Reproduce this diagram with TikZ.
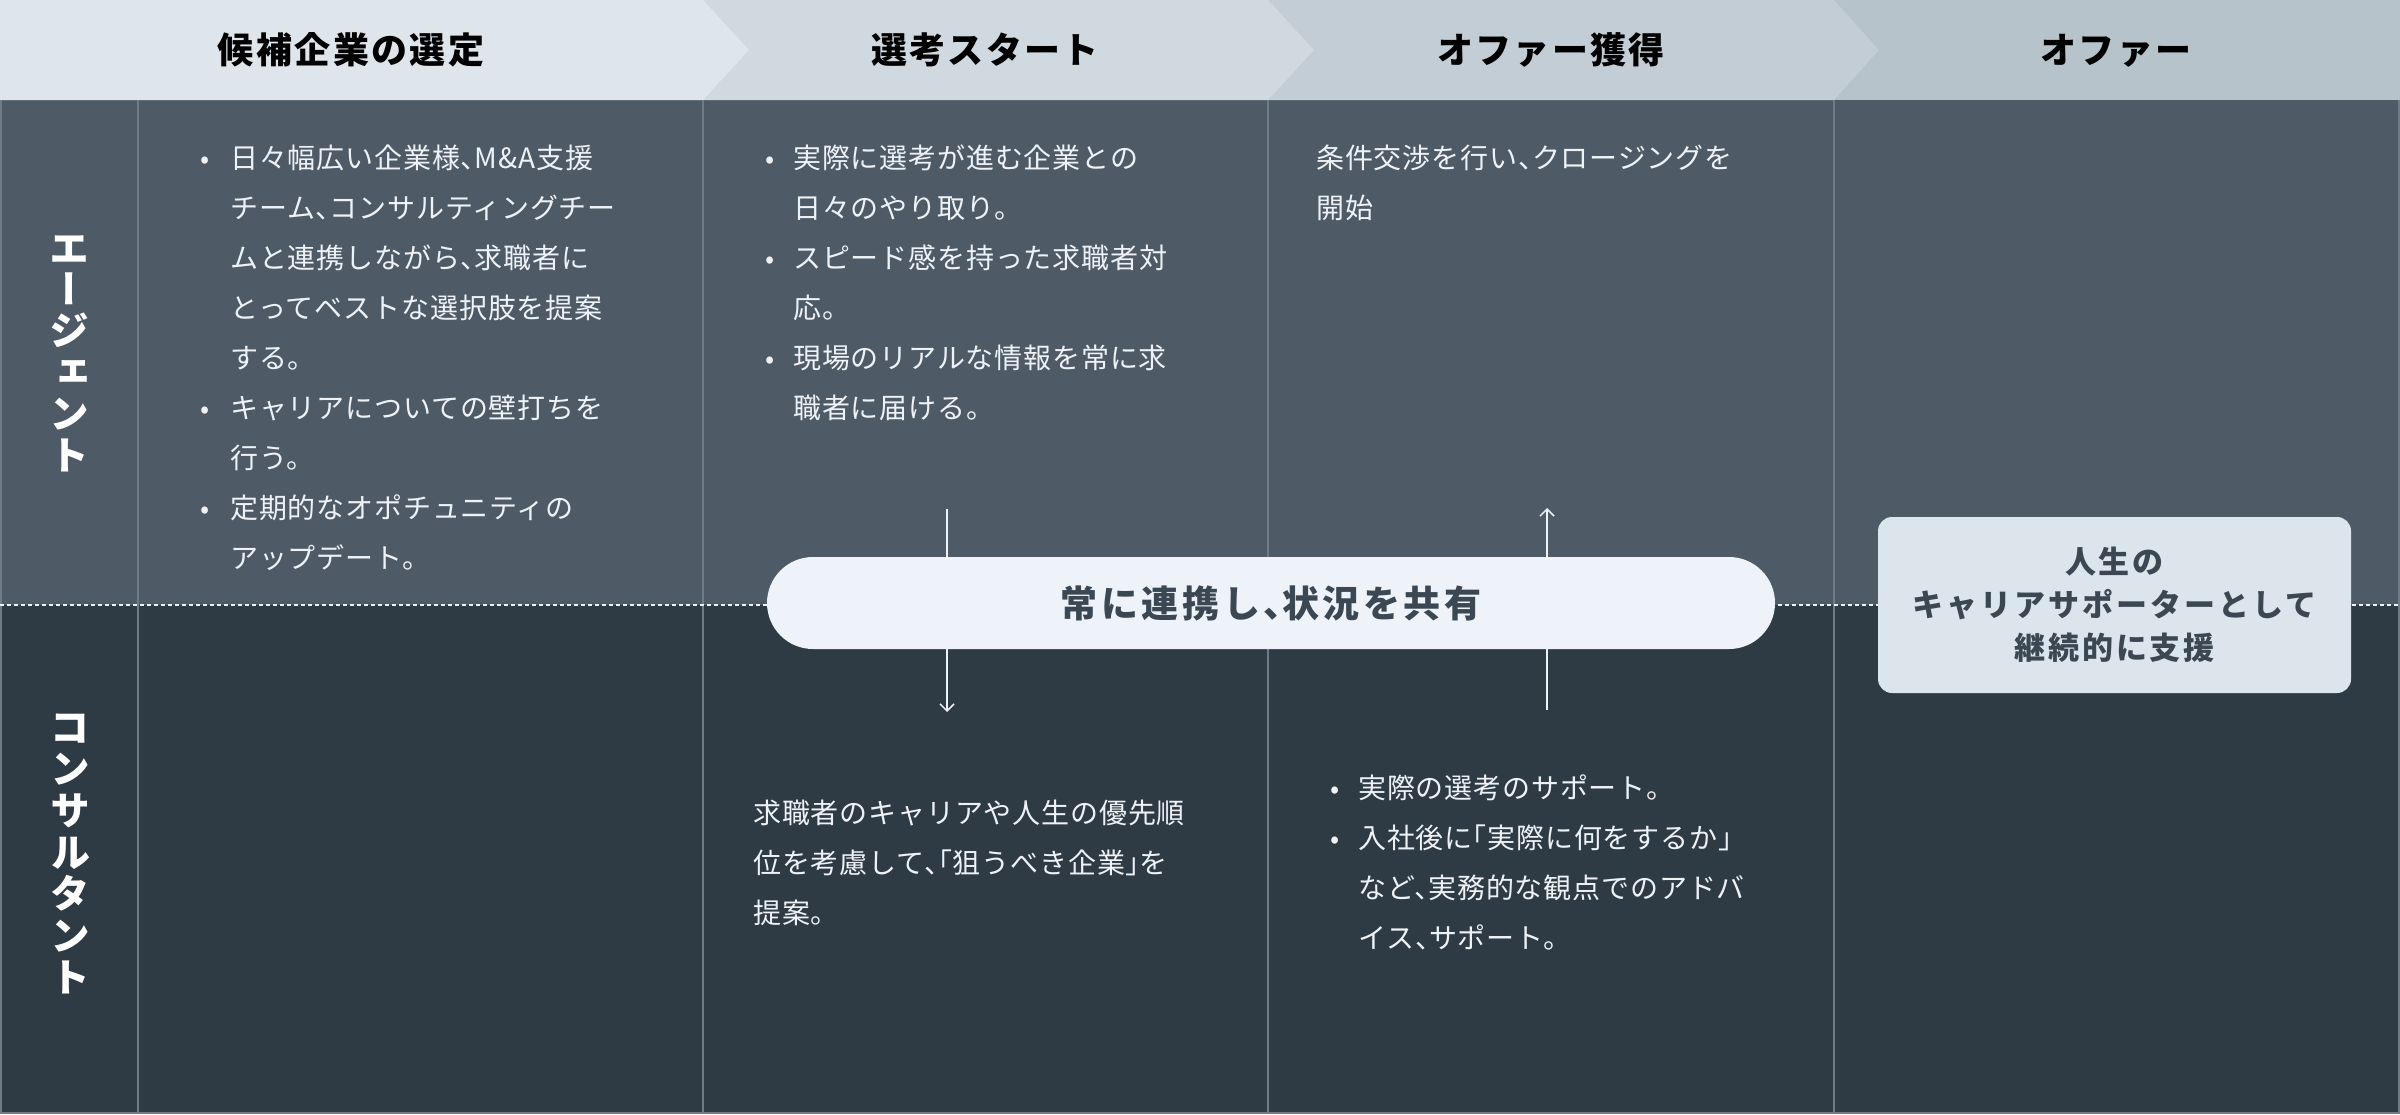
\documentclass[tikz,border=0pt]{standalone}
\usepackage{fontspec}
\setmainfont{Noto Sans CJK JP}
\newfontfamily\vfont[RawFeature=+vert]{Noto Sans CJK JP}
\usetikzlibrary{arrows.meta}
\definecolor{hA}{HTML}{DEE5EB}
\definecolor{hB}{HTML}{D0D9E0}
\definecolor{hC}{HTML}{C2CDD5}
\definecolor{hD}{HTML}{B6C3CB}
\definecolor{agentbg}{HTML}{4E5B67}
\definecolor{consbg}{HTML}{2F3B44}
\definecolor{gridln}{HTML}{6F7B86}
\definecolor{bodytx}{HTML}{EEF2F6}
\definecolor{darktx}{HTML}{3B4853}
\definecolor{pillbg}{HTML}{EDF3F8}
\definecolor{boxbg}{HTML}{DDE5EC}
% half-width punctuation
\newcommand\jten{、\kern-0.5em}
\newcommand\jlk{\kern-0.5em「}
\newcommand\jrk{」\kern-0.5em}
\begin{document}
\begin{tikzpicture}[x=1pt,y=-1pt,
  headtxt/.style={anchor=base, inner sep=0, text=black,
    font={\fontsize{36}{40}\selectfont\bfseries\addfontfeatures{LetterSpace=6.5}}},
  vlab/.style={anchor=base, inner sep=0, text=white,
    font={\vfont\fontsize{40}{40}\selectfont\bfseries}},
  txt/.style={anchor=base west, inner sep=0, text=bodytx,
    font={\fontsize{28}{30}\selectfont\addfontfeatures{LetterSpace=3}}},
  bul/.style={anchor=base, inner sep=0, text=bodytx,
    font={\fontsize{27}{30}\selectfont}},
  gridline/.style={draw=gridln, line width=1.5pt},
  flow/.style={draw=bodytx, line width=1.5pt, -{Straight Barb[length=7pt,width=14pt]}},
  pill/.style={fill=pillbg, rounded corners=46pt, minimum width=1008pt, minimum height=92pt,
    inner sep=0, text=darktx,
    font={\fontsize{37}{40}\selectfont\bfseries\addfontfeatures{LetterSpace=9.5}}},
  supportbox/.style={fill=boxbg, rounded corners=14pt, minimum width=473pt, minimum height=176pt,
    inner sep=0, text=darktx, align=center,
    font={\fontsize{31}{43}\selectfont\bfseries\addfontfeatures{LetterSpace=9.5}}}
]
\useasboundingbox (0,0) rectangle (2400,1114);
% row backgrounds
\fill[agentbg] (0,100) rectangle (2400,605);
\fill[consbg] (0,605) rectangle (2400,1114);
% header chevrons
\fill[hD] (1834,0) rectangle (2400,100);
\fill[hC] (1268,0) -- (1834,0) -- (1879,50) -- (1834,100) -- (1268,100) -- cycle;
\fill[hB] (703,0) -- (1268,0) -- (1314,50) -- (1268,100) -- (703,100) -- cycle;
\fill[hA] (0,0) -- (703,0) -- (749,50) -- (703,100) -- (0,100) -- cycle;
% grid
\draw[gridline] (138,100) -- (138,1114);
\draw[gridline] (703,100) -- (703,1114);
\draw[gridline] (1268,100) -- (1268,1114);
\draw[gridline] (1834,100) -- (1834,1114);
\draw[gridline] (1,100) -- (1,1113) -- (2399,1113) -- (2399,100);
\draw[bodytx, line width=1.5pt, dash pattern=on 4pt off 3pt] (0,605) -- (2400,605);
% header texts
\node[headtxt] (h1) at (351,63) {候補企業の選定};
\node[headtxt] (h2) at (985,63) {選考スタート};
\node[headtxt] (h3) at (1551,63) {オファー獲得};
\node[headtxt] (h4) at (2116,63) {オファー};
% vertical labels
\foreach \ch [count=\i] in {エ,ー,ジ,ェ,ン,ト}
  \node[vlab] (agent\i) at (69,{263+41.4*(\i-1)}) {\ch};
\foreach \ch [count=\i] in {コ,ン,サ,ル,タ,ン,ト}
  \node[vlab] (cons\i) at (70,{742+41.7*(\i-1)}) {\ch};
% column 1 agent
\node[bul] (b1a) at (205,168) {•};
\node[txt] (t1a) at (230,168) {日々幅広い企業様\jten M\&A支援};
\node[txt] (t1b) at (230,218) {チーム\jten コンサルティングチー};
\node[txt] (t1c) at (230,268) {ムと連携しながら\jten 求職者に};
\node[txt] (t1d) at (230,318) {とってベストな選択肢を提案};
\node[txt] (t1e) at (230,368) {する。};
\node[bul] (b1b) at (205,418) {•};
\node[txt] (t1f) at (230,418) {キャリアについての壁打ちを};
\node[txt] (t1g) at (230,468) {行う。};
\node[bul] (b1c) at (205,518) {•};
\node[txt] (t1h) at (230,518) {定期的なオポチュニティの};
\node[txt] (t1i) at (230,568) {アップデート。};
% column 2 agent
\node[bul] (b2a) at (770,168) {•};
\node[txt] (t2a) at (793,168) {実際に選考が進む企業との};
\node[txt] (t2b) at (793,218) {日々のやり取り。};
\node[bul] (b2b) at (770,268) {•};
\node[txt] (t2c) at (793,268) {スピード感を持った求職者対};
\node[txt] (t2d) at (793,318) {応。};
\node[bul] (b2c) at (770,368) {•};
\node[txt] (t2e) at (793,368) {現場のリアルな情報を常に求};
\node[txt] (t2f) at (793,418) {職者に届ける。};
% column 3 agent
\node[txt] (t3a) at (1316,168) {条件交渉を行い\jten クロージングを};
\node[txt] (t3b) at (1316,218) {開始};
% column 2 consultant
\node[txt] (c2a) at (753,823) {求職者のキャリアや人生の優先順};
\node[txt] (c2b) at (753,873) {位を考慮して\jten\jlk 狙うべき企業\jrk を};
\node[txt] (c2c) at (753,923) {提案。};
% column 3 consultant
\node[bul] (b3a) at (1335,798) {•};
\node[txt] (c3a) at (1358,798) {実際の選考のサポート。};
\node[bul] (b3b) at (1335,848) {•};
\node[txt] (c3b) at (1358,848) {入社後に\jlk 実際に何をするか」};
\node[txt] (c3c) at (1358,898) {など\jten 実務的な観点でのアドバ};
\node[txt] (c3d) at (1358,948) {イス\jten サポート。};
% arrows
\coordinate (d1) at (947,509);
\coordinate (d2) at (947,712);
\coordinate (u1) at (1547,710);
\coordinate (u2) at (1547,508);
\draw[flow] (d1) -- (d2);
\draw[flow] (u1) -- (u2);
% pill and box
\node[pill] (share) at (1271,603) {常に連携し\jten 状況を共有};
\node[supportbox] (support) at (2114.5,605) {人生の\\キャリアサポーターとして\\継続的に支援};
\end{tikzpicture}
\end{document}
